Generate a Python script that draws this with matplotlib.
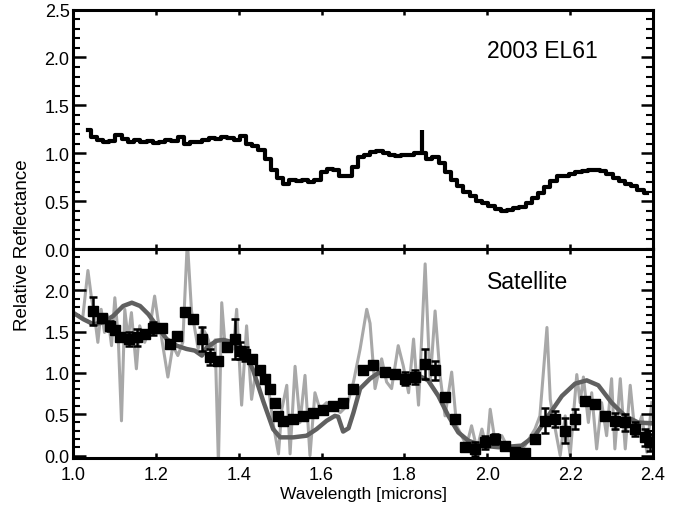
import numpy as np
import matplotlib
matplotlib.use('Agg')
import matplotlib.pyplot as plt
from matplotlib.ticker import MultipleLocator

plt.rcParams['font.family'] = ['Liberation Sans', 'DejaVu Sans']

# Step 1: Data
# --------------------------------

# 2003 EL61 spectrum (top panel), sampled every 0.015 micron
el61_wave = np.arange(1.035, 2.39, 0.015)
el61_refl = [1.24, 1.17, 1.14, 1.12, 1.13, 1.19, 1.15, 1.12, 1.14, 1.12,
             1.13, 1.11, 1.12, 1.14, 1.13, 1.17, 1.10, 1.12, 1.12, 1.14,
             1.16, 1.15, 1.17, 1.16, 1.14, 1.18, 1.10, 1.08, 1.03, 0.94,
             0.83, 0.74, 0.68, 0.72, 0.71, 0.72, 0.70, 0.72, 0.80, 0.84,
             0.83, 0.76, 0.76, 0.86, 0.96, 0.98, 1.01, 1.02, 1.00, 0.98,
             0.97, 0.98, 0.98, 1.00, 1.00, 0.94, 0.96, 0.90, 0.80, 0.72,
             0.66, 0.60, 0.55, 0.50, 0.48, 0.45, 0.42, 0.40, 0.41, 0.43,
             0.44, 0.48, 0.53, 0.58, 0.65, 0.71, 0.76, 0.76, 0.78, 0.80,
             0.81, 0.82, 0.83, 0.81, 0.78, 0.74, 0.71, 0.68, 0.66, 0.62,
             0.58]

# narrow spike in the EL61 spectrum
spike_wave = 1.842
spike_low = 1.00
spike_high = 1.24

# Satellite raw spectrum (light grey)
sat_raw_wave = [1.024, 1.036, 1.044, 1.052, 1.060, 1.068, 1.076, 1.084, 1.093, 1.101,
                1.109, 1.117, 1.125, 1.133, 1.141, 1.153, 1.161, 1.173, 1.185, 1.197,
                1.205, 1.213, 1.229, 1.241, 1.253, 1.265, 1.276, 1.286, 1.294, 1.302,
                1.312, 1.323, 1.333, 1.343, 1.351, 1.359, 1.367, 1.379, 1.387, 1.395,
                1.407, 1.419, 1.431, 1.443, 1.456, 1.472, 1.484, 1.496, 1.504, 1.516,
                1.524, 1.536, 1.548, 1.560, 1.572, 1.584, 1.596, 1.612, 1.628, 1.645,
                1.661, 1.677, 1.693, 1.709, 1.717, 1.729, 1.745, 1.757, 1.769, 1.785,
                1.797, 1.810, 1.822, 1.834, 1.850, 1.862, 1.874, 1.886, 1.898, 1.914,
                1.926, 1.938, 1.950, 1.962, 1.975, 1.987, 1.999, 2.007, 2.019, 2.035,
                2.051, 2.067, 2.091, 2.115, 2.127, 2.144, 2.152, 2.164, 2.176, 2.188,
                2.200, 2.216, 2.224, 2.232, 2.244, 2.252, 2.264, 2.276, 2.288, 2.300,
                2.308, 2.321, 2.333, 2.345, 2.357, 2.373, 2.385, 2.397]
sat_raw_refl = [1.69, 2.24, 1.93, 1.69, 1.37, 1.77, 1.49, 1.69, 1.33, 1.91,
                1.45, 0.42, 1.77, 1.41, 1.73, 1.05, 1.57, 1.37, 1.53, 1.93,
                1.65, 1.45, 0.95, 1.33, 1.21, 1.37, 2.60, 1.75, 1.53, 1.29,
                1.55, 1.45, 1.30, 1.40, -0.10, 1.85, 1.33, 1.30, 1.29, 1.77,
                0.61, 1.57, 0.68, 1.08, 0.93, 0.81, 0.36, 0.02, 0.56, 0.85,
                0.02, 1.08, 0.40, 0.97, 0.00, 0.76, 0.56, 0.64, 0.60, 0.52,
                0.60, 0.89, 1.29, 1.77, 1.60, 0.81, 1.17, 0.89, 0.81, 1.33,
                1.09, 0.76, 1.41, 0.61, 2.32, 0.89, 1.75, 0.97, 0.48, 1.01,
                0.36, 0.24, 0.12, 0.36, 0.08, 0.32, 0.08, 0.56, 0.16, 0.24,
                0.08, 0.00, 0.12, 0.32, 0.48, 1.55, 0.68, 0.32, 0.00, 0.48,
                0.00, 0.98, 0.64, 0.95, 0.40, 0.76, 0.08, 0.64, 0.24, 0.93,
                0.08, 0.93, 0.08, 0.85, 0.24, 0.48, 0.04, 0.64]

# Satellite binned spectrum (black squares with error bars)
sat_bin_wave = [1.049, 1.069, 1.089, 1.101, 1.113, 1.134, 1.154, 1.174, 1.194, 1.214,
                1.234, 1.250, 1.270, 1.290, 1.311, 1.331, 1.351, 1.371, 1.391, 1.403,
                1.415, 1.431, 1.451, 1.463, 1.475, 1.488, 1.496, 1.508, 1.532, 1.556,
                1.580, 1.604, 1.628, 1.652, 1.677, 1.701, 1.725, 1.753, 1.777, 1.801,
                1.825, 1.850, 1.874, 1.898, 1.922, 1.946, 1.970, 1.994, 2.019, 2.043,
                2.067, 2.091, 2.115, 2.139, 2.163, 2.188, 2.212, 2.236, 2.260, 2.284,
                2.308, 2.332, 2.357, 2.381, 2.393]
sat_bin_refl = [1.75, 1.67, 1.57, 1.52, 1.43, 1.41, 1.43, 1.47, 1.54, 1.54,
                1.35, 1.45, 1.74, 1.65, 1.41, 1.19, 1.15, 1.31, 1.41, 1.27,
                1.23, 1.17, 1.03, 0.93, 0.81, 0.64, 0.48, 0.42, 0.44, 0.48,
                0.52, 0.55, 0.60, 0.64, 0.81, 1.03, 1.09, 1.01, 0.99, 0.93,
                0.95, 1.11, 1.03, 0.71, 0.44, 0.10, 0.08, 0.16, 0.20, 0.12,
                0.04, 0.03, 0.20, 0.42, 0.44, 0.30, 0.44, 0.66, 0.62, 0.48,
                0.42, 0.40, 0.32, 0.22, 0.16]
sat_bin_err = [0.17, 0.03, 0.06, 0.03, 0.03, 0.08, 0.10, 0.05, 0.08, 0.03,
               0.03, 0.03, 0.03, 0.03, 0.15, 0.10, 0.03, 0.03, 0.24, 0.10,
               0.08, 0.03, 0.03, 0.03, 0.03, 0.03, 0.03, 0.03, 0.03, 0.03,
               0.03, 0.03, 0.03, 0.03, 0.03, 0.03, 0.03, 0.04, 0.05, 0.08,
               0.09, 0.18, 0.12, 0.03, 0.03, 0.04, 0.08, 0.08, 0.06, 0.03,
               0.03, 0.03, 0.03, 0.15, 0.10, 0.15, 0.12, 0.03, 0.03, 0.03,
               0.10, 0.10, 0.08, 0.10, 0.10]

# Model fit to the satellite (dark grey)
model_wave = [1.000, 1.025, 1.049, 1.073, 1.097, 1.121, 1.142, 1.162, 1.182, 1.202,
              1.226, 1.250, 1.274, 1.294, 1.311, 1.323, 1.347, 1.363, 1.387, 1.411,
              1.435, 1.459, 1.483, 1.500, 1.532, 1.564, 1.588, 1.612, 1.632, 1.640,
              1.652, 1.665, 1.677, 1.693, 1.717, 1.737, 1.769, 1.801, 1.833, 1.857,
              1.882, 1.906, 1.930, 1.954, 1.987, 2.027, 2.059, 2.083, 2.115, 2.147,
              2.180, 2.212, 2.240, 2.268, 2.300, 2.332, 2.364, 2.393]
model_refl = [1.73, 1.65, 1.59, 1.61, 1.69, 1.81, 1.85, 1.81, 1.71, 1.57,
              1.41, 1.33, 1.29, 1.27, 1.21, 1.31, 1.39, 1.40, 1.37, 1.29,
              1.03, 0.66, 0.32, 0.22, 0.22, 0.24, 0.32, 0.42, 0.48, 0.47,
              0.29, 0.33, 0.52, 0.81, 0.93, 1.00, 0.98, 0.96, 0.97, 0.91,
              0.72, 0.48, 0.28, 0.18, 0.12, 0.10, 0.11, 0.12, 0.24, 0.48,
              0.72, 0.87, 0.91, 0.85, 0.64, 0.48, 0.40, 0.39]

# Step 2: Figure layout
# ---------------------

fig = plt.figure(figsize=(6.81, 5.06), dpi=100)
ax_top = fig.add_axes([0.1072, 0.5059, 0.8517, 0.4733])
ax_bot = fig.add_axes([0.1072, 0.0929, 0.8517, 0.4130])


def style_axis(ax):
    for side in ax.spines.values():
        side.set_linewidth(2.2)
    ax.set_xlim(1.0, 2.4)
    ax.xaxis.set_major_locator(MultipleLocator(0.2))
    ax.yaxis.set_major_locator(MultipleLocator(0.5))
    ax.yaxis.set_minor_locator(MultipleLocator(0.1))
    ax.tick_params(axis='x', which='major', direction='in', top=True, bottom=True,
                   length=3.5, width=1.8, pad=6, labelsize=13)
    ax.tick_params(axis='y', which='major', direction='in', left=True, right=True,
                   length=9, width=1.8, pad=2.5, labelsize=13)
    ax.tick_params(axis='y', which='minor', direction='in', left=True, right=True,
                   length=5, width=1.5)
    ax.yaxis.set_major_formatter(plt.FormatStrFormatter('%.1f'))


# Step 3: Top panel - 2003 EL61
# -----------------------------

ax_top.step(el61_wave, el61_refl, where='mid', color='black', lw=3)
ax_top.vlines(spike_wave, spike_low, spike_high, color='black', lw=3)
style_axis(ax_top)
ax_top.set_ylim(0.0, 2.5)
ax_top.tick_params(axis='x', labelbottom=False)
ax_top.text(2.0, 2.07, '2003 EL61', fontsize=16.5, va='center', ha='left')

# Step 4: Bottom panel - satellite
# --------------------------------

ax_bot.plot(sat_raw_wave, sat_raw_refl, color='#a8a8a8', lw=2.2, zorder=1)
ax_bot.plot(model_wave, model_refl, color='#606060', lw=3.2, zorder=2)
ax_bot.errorbar(sat_bin_wave, sat_bin_refl, yerr=sat_bin_err, fmt='s', color='black',
                ms=7, capsize=3, elinewidth=1.8, capthick=1.8, zorder=3)
style_axis(ax_bot)
ax_bot.set_ylim(-0.03, 2.5)
ax_bot.set_yticks([0.0, 0.5, 1.0, 1.5, 2.0])
ax_bot.text(2.0, 2.11, 'Satellite', fontsize=16.5, va='center', ha='left')
ax_bot.set_xlabel('Wavelength [microns]', fontsize=12.5, labelpad=2)

fig.text(0.033, 0.515, 'Relative Reflectance', rotation=90, fontsize=13.5,
         ha='center', va='center')

fig.savefig('out.png', dpi=100)
